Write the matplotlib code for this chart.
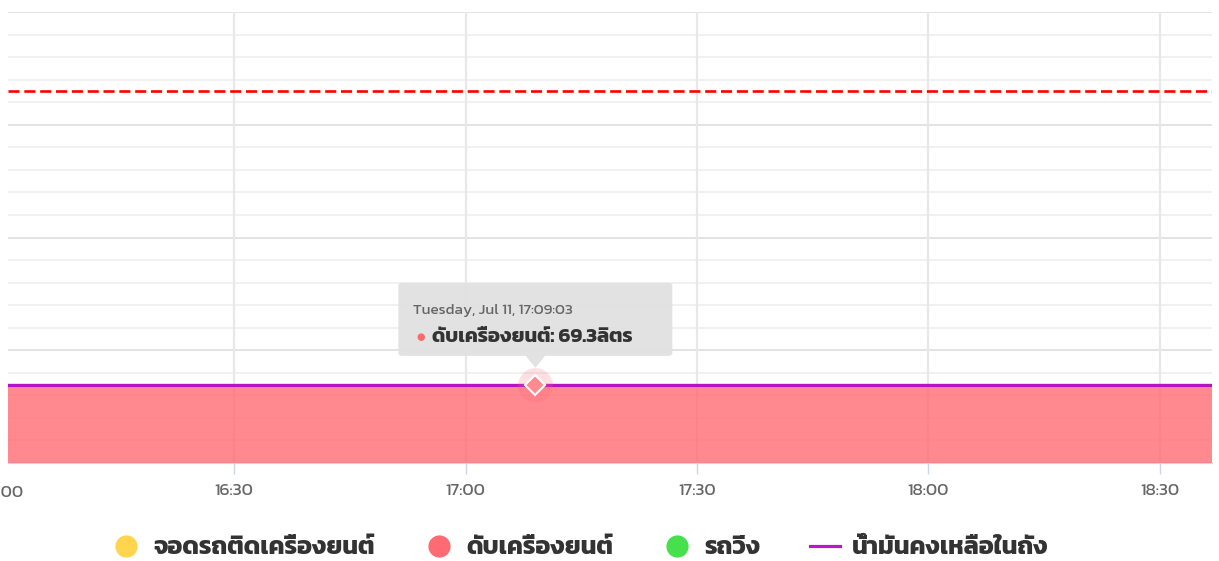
import pandas as pd
import matplotlib
matplotlib.use('Agg')
import matplotlib.pyplot as plt
import matplotlib.dates as mdates
import matplotlib.transforms as mtrans
from matplotlib import font_manager as fm
from matplotlib.ft2font import FT2Font
from matplotlib.lines import Line2D
from matplotlib.patches import FancyBboxPatch, Polygon

# หา font ที่มีตัวอักษรไทย
thai_font = None
cands = []
for f in fm.fontManager.ttflist:
    try:
        if 0x0E14 in FT2Font(f.fname).get_charmap():
            cands.append(f.name)
    except Exception:
        pass
for pref in ['Kanit', 'Prompt', 'Noto Sans Thai', 'Noto Sans Thai UI', 'Noto Sans Thai Looped']:
    if pref in cands:
        thai_font = pref
        break
if thai_font is None and cands:
    thai_font = cands[0]
fam = [thai_font, 'DejaVu Sans'] if thai_font else ['DejaVu Sans']
plt.rcParams['font.family'] = fam

# data
fuel_times = pd.to_datetime(['2023-07-11 15:55:00', '2023-07-11 17:09:03', '2023-07-11 18:40:00'])
engine_off = [69.3, 69.3, 69.3]      # ดับเครื่องยนต์
fuel_left = [69.3, 69.3, 69.3]       # น้ำมันคงเหลือในถัง
threshold = 330
hover_time = pd.Timestamp('2023-07-11 17:09:03')
hover_val = 69.3
x_start = pd.Timestamp('2023-07-11 16:00:42')
x_end = pd.Timestamp('2023-07-11 18:36:45')
tick_times = pd.to_datetime(['2023-07-11 16:30', '2023-07-11 17:00', '2023-07-11 17:30',
                             '2023-07-11 18:00', '2023-07-11 18:30'])
legend_labels = ['จอดรถติดเครื่องยนต์', 'ดับเครื่องยนต์', 'รถวิ่ง', 'น้ำมันคงเหลือในถัง']
legend_colors = ['#ffd54f', '#ff6b73', '#45e04c', '#bb16c9']

W, H = 1219, 561
fig = plt.figure(figsize=(W / 100, H / 100), dpi=100)
ax = fig.add_axes([8 / W, (H - 463) / H, (1212 - 8) / W, (463 - 12) / H])

ax.set_xlim(x_start, x_end)
ax.set_ylim(0, 400)

# grid
for v in range(0, 401, 20):
    if v % 100 == 0:
        ax.axhline(v, color='#e0e0e0', lw=1.3, zorder=0)
    else:
        ax.axhline(v, color='#f0f0f0', lw=1.3, zorder=0)
for t in tick_times:
    ax.axvline(t, color='#e8e8e8', lw=1.6, zorder=0)

ax.fill_between(fuel_times, 0, engine_off, color='#ff6870', alpha=0.78, lw=0, zorder=1)
ax.plot(fuel_times, engine_off, color='#ff6870', lw=2.5, zorder=2)
ax.plot(fuel_times, fuel_left, color='#b514c2', lw=2.2, zorder=3)
ax.axhline(threshold, color='#ff0000', lw=1.9, dashes=(4.2, 1.8), zorder=3)

# hover marker
ax.plot([hover_time], [hover_val], 'o', ms=25, color='#ff6870', alpha=0.2, mec='none', zorder=4, clip_on=False)
ax.plot([hover_time], [hover_val], 'D', ms=10, mfc='#ff8a8f', mec='white', mew=1.5, zorder=5, clip_on=False)

# tooltip (pixel offsets from the hovered point)
hx = mdates.date2num(hover_time)
tr = mtrans.Affine2D() + mtrans.ScaledTranslation(hx, hover_val, ax.transData)
box = FancyBboxPatch((-137, 29), 274, 73, boxstyle='round,pad=0,rounding_size=3',
                     fc='#e1e1e1', ec='none', alpha=0.95, transform=tr, zorder=6, clip_on=False)
ax.add_patch(box)
ptr = Polygon([(-10, 29.5), (10, 29.5), (0, 17)], closed=True, fc='#e1e1e1', ec='none',
              alpha=0.95, transform=tr, zorder=6, clip_on=False)
ax.add_patch(ptr)
ax.annotate('Tuesday, Jul 11, 17:09:03', xy=(hover_time, hover_val), xytext=(-122, 74),
            textcoords='offset pixels', fontsize=11, color='#666666', va='center', ha='left',
            zorder=7, annotation_clip=False)
ax.annotate('●', xy=(hover_time, hover_val), xytext=(-115, 48), textcoords='offset pixels',
            fontsize=7, color='#ff6870', va='center', ha='center', zorder=7,
            family='DejaVu Sans', annotation_clip=False)
ax.annotate('ดับเครื่องยนต์: 69.3ลิตร', xy=(hover_time, hover_val), xytext=(-103, 48),
            textcoords='offset pixels', fontsize=14.5, fontweight='bold', color='#333333',
            va='center', ha='left', zorder=7, annotation_clip=False)

# axes style
ax.set_xticks(tick_times)
ax.xaxis.set_major_formatter(mdates.DateFormatter('%H:%M'))
ax.tick_params(axis='x', length=8, width=1, color='#ccd6eb', labelcolor='#666666',
               labelsize=12.5, pad=7)
ax.tick_params(axis='y', left=False, labelleft=False)
for s in ['top', 'right', 'left']:
    ax.spines[s].set_visible(False)
ax.spines['bottom'].set_color('#ccd6eb')
ax.set_facecolor('white')

# 16:00 label that is cut off at the left
ax.text(pd.Timestamp('2023-07-11 16:00'), -0.067, '16:00', transform=ax.get_xaxis_transform(),
        ha='center', va='center', fontsize=12.5, color='#666666', clip_on=False)

# legend
handles = []
for c in legend_colors[:3]:
    handles.append(Line2D([], [], marker='o', ls='none', ms=16, mfc=c, mec='none'))
handles.append(Line2D([], [], color=legend_colors[3], lw=2.3))
fig.legend(handles, legend_labels, loc='center', bbox_to_anchor=(580 / W, 1 - 548 / H), ncol=4,
           frameon=False, handlelength=1.2, handletextpad=0.5, columnspacing=1.95,
           prop={'size': 18, 'weight': 'bold'}, labelcolor='#333333')

fig.savefig('out.png', dpi=100, facecolor='white')
